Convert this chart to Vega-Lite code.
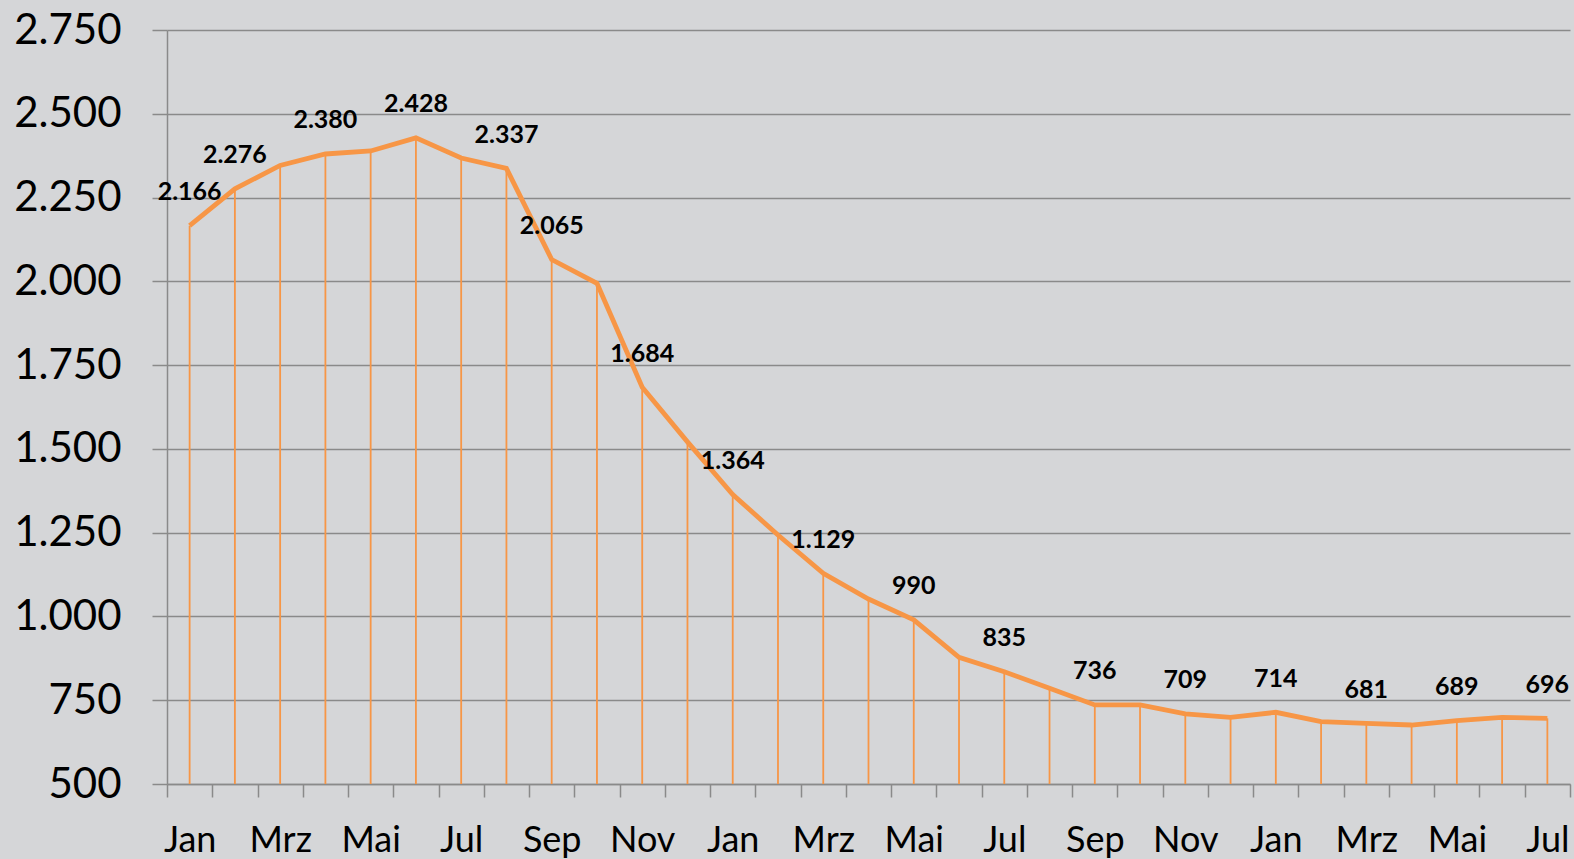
{
  "$schema": "https://vega.github.io/schema/vega-lite/v6.json",
  "width": 1403,
  "height": 754,
  "autosize": {"type": "none"},
  "padding": {"left": 167, "top": 30, "right": 4, "bottom": 75},
  "background": "#d5d6d8",
  "config": {
    "view": {"stroke": null},
    "locale": {"number": {"decimal": ",", "thousands": ".", "grouping": [3], "currency": ["", " €"]}}
  },
  "data": {
    "values": [
      {"nr": 1, "monat": "Jan", "wert": 2166, "label": true},
      {"nr": 2, "monat": "Feb", "wert": 2276, "label": true},
      {"nr": 3, "monat": "Mrz", "wert": 2346, "label": false},
      {"nr": 4, "monat": "Apr", "wert": 2380, "label": true},
      {"nr": 5, "monat": "Mai", "wert": 2389, "label": false},
      {"nr": 6, "monat": "Jun", "wert": 2428, "label": true},
      {"nr": 7, "monat": "Jul", "wert": 2368, "label": false},
      {"nr": 8, "monat": "Aug", "wert": 2337, "label": true},
      {"nr": 9, "monat": "Sep", "wert": 2065, "label": true},
      {"nr": 10, "monat": "Okt", "wert": 1994, "label": false},
      {"nr": 11, "monat": "Nov", "wert": 1684, "label": true},
      {"nr": 12, "monat": "Dez", "wert": 1521, "label": false},
      {"nr": 13, "monat": "Jan", "wert": 1364, "label": true},
      {"nr": 14, "monat": "Feb", "wert": 1243, "label": false},
      {"nr": 15, "monat": "Mrz", "wert": 1129, "label": true},
      {"nr": 16, "monat": "Apr", "wert": 1052, "label": false},
      {"nr": 17, "monat": "Mai", "wert": 990, "label": true},
      {"nr": 18, "monat": "Jun", "wert": 878, "label": false},
      {"nr": 19, "monat": "Jul", "wert": 835, "label": true},
      {"nr": 20, "monat": "Aug", "wert": 786, "label": false},
      {"nr": 21, "monat": "Sep", "wert": 736, "label": true},
      {"nr": 22, "monat": "Okt", "wert": 736, "label": false},
      {"nr": 23, "monat": "Nov", "wert": 709, "label": true},
      {"nr": 24, "monat": "Dez", "wert": 699, "label": false},
      {"nr": 25, "monat": "Jan", "wert": 714, "label": true},
      {"nr": 26, "monat": "Feb", "wert": 686, "label": false},
      {"nr": 27, "monat": "Mrz", "wert": 681, "label": true},
      {"nr": 28, "monat": "Apr", "wert": 676, "label": false},
      {"nr": 29, "monat": "Mai", "wert": 689, "label": true},
      {"nr": 30, "monat": "Jun", "wert": 699, "label": false},
      {"nr": 31, "monat": "Jul", "wert": 696, "label": true}
    ]
  },
  "encoding": {
    "x": {
      "field": "nr",
      "type": "quantitative",
      "scale": {"domain": [0.5, 31.5], "nice": false, "zero": false},
      "axis": {
        "title": null,
        "grid": false,
        "values": [0.5,1,1.5,2,2.5,3,3.5,4,4.5,5,5.5,6,6.5,7,7.5,8,8.5,9,9.5,10,10.5,11,11.5,12,12.5,13,13.5,14,14.5,15,15.5,16,16.5,17,17.5,18,18.5,19,19.5,20,20.5,21,21.5,22,22.5,23,23.5,24,24.5,25,25.5,26,26.5,27,27.5,28,28.5,29,29.5,30,30.5,31,31.5],
        "labelExpr": "datum.value % 2 == 1 ? ['Jan','Feb','Mrz','Apr','Mai','Jun','Jul','Aug','Sep','Okt','Nov','Dez'][(datum.value - 1) % 12] : ''",
        "tickOpacity": {"condition": {"test": "datum.value % 1 == 0", "value": 0}, "value": 1},
        "tickSize": 13,
        "tickWidth": 1.5,
        "tickColor": "#8a8a8a",
        "domainColor": "#8a8a8a",
        "domainWidth": 1.5,
        "labelFont": "Lato",
        "labelFontSize": 36,
        "labelColor": "#000000",
        "labelPadding": 26,
        "labelOverlap": false,
        "labelFlush": false,
        "labelAlign": "center",
        "labelBaseline": "top"
      }
    },
    "y": {
      "field": "wert",
      "type": "quantitative",
      "scale": {"domain": [500, 2750], "nice": false, "zero": false},
      "axis": {
        "title": null,
        "values": [500,750,1000,1250,1500,1750,2000,2250,2500,2750],
        "format": ",d",
        "grid": true,
        "gridColor": "#8a8a8a",
        "gridWidth": 1.5,
        "tickSize": 15,
        "tickWidth": 1.5,
        "tickColor": "#8a8a8a",
        "domainColor": "#8a8a8a",
        "domainWidth": 1.5,
        "labelFont": "Lato",
        "labelFontSize": 42,
        "labelColor": "#000000",
        "labelPadding": 31,
        "labelFlush": false,
        "labelOverlap": false,
        "labelBaseline": "middle"
      }
    }
  },
  "layer": [
    {
      "mark": {"type": "rule", "color": "#f79646", "strokeWidth": 1.8},
      "encoding": {"y2": {"datum": 500}}
    },
    {
      "mark": {"type": "line", "color": "#f79646", "strokeWidth": 4.8},
      "encoding": {}
    },
    {
      "transform": [{"filter": "datum.label"}],
      "mark": {"type": "text", "font": "Lato", "fontWeight": "bold", "fontSize": 25, "color": "#000000", "baseline": "alphabetic", "align": "center", "dy": -25.5},
      "encoding": {"text": {"field": "wert", "type": "quantitative", "format": ",d"}}
    }
  ]
}
